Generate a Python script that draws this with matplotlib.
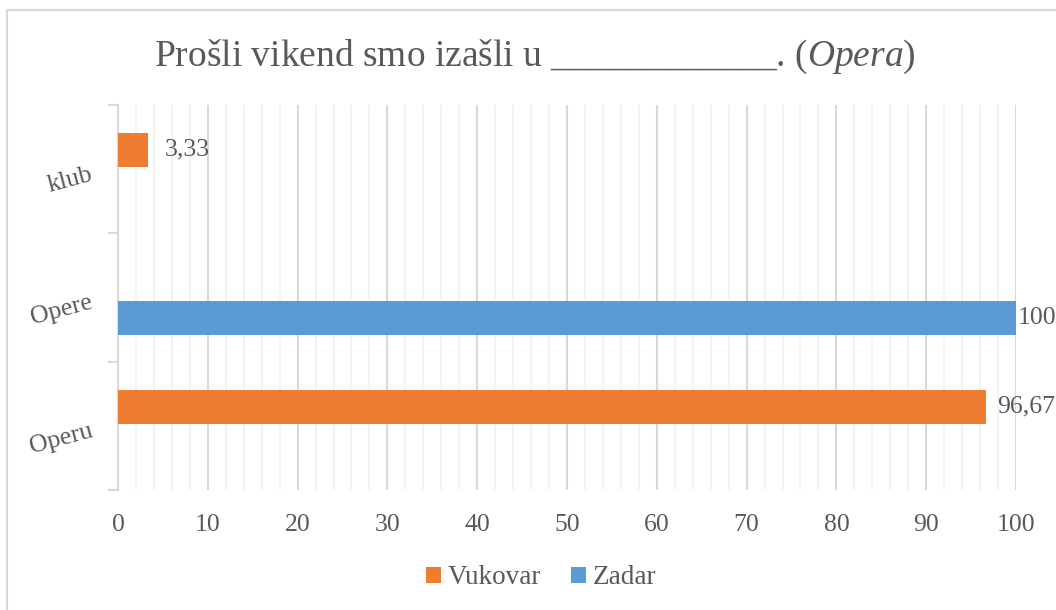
import matplotlib
matplotlib.use('Agg')
import matplotlib.pyplot as plt
import matplotlib.transforms as mtransforms
import numpy as np
from matplotlib.patches import Rectangle
from matplotlib.ticker import MultipleLocator

# ---------------- podaci ----------------
categories = ['Operu', 'Opere', 'klub']
vukovar = [96.67, np.nan, 3.33]
zadar = [np.nan, 100, np.nan]
series_names = ['Vukovar', 'Zadar']

# ---------------- stil ----------------
plt.rcParams['font.family'] = ['Liberation Serif', 'DejaVu Serif']
plt.rcParams['mathtext.fontset'] = 'custom'
plt.rcParams['mathtext.rm'] = 'Liberation Serif'
plt.rcParams['mathtext.it'] = 'Liberation Serif:italic'

ORANGE = '#ED7D31'
BLUE = '#5B9BD5'
TEXT = '#595959'
GRID_MAJOR = '#d9d9d9'
GRID_MINOR = '#f2f2f2'

fig = plt.figure(figsize=(10.56, 6.10), dpi=100)
ax = fig.add_axes([118 / 1056, 1 - 490 / 610, (1016 - 118) / 1056, (490 - 105) / 610])

# okvir grafikona
fig.patches.append(Rectangle((7 / 1056, -0.1), 1.2, 1 - 10 / 610 + 0.1,
                             transform=fig.transFigure, fill=False,
                             edgecolor=GRID_MAJOR, linewidth=1.5))

y = np.arange(len(categories))
bar_h = 0.265
ax.barh(y + 0.15, vukovar, height=bar_h, color=ORANGE, label=series_names[0], zorder=3)
ax.barh(y - 0.16, zadar, height=bar_h, color=BLUE, label=series_names[1], zorder=3)

# oznake podataka
label_pad = {0: 8, 1: 1.5, 2: 12}
for i, v in enumerate(vukovar):
    if not np.isnan(v):
        ax.annotate(f"{v:g}".replace('.', ','), (v, y[i] + 0.15), xytext=(label_pad[i], 0),
                    textcoords='offset points', ha='left', va='center',
                    fontsize=18.5, color=TEXT, annotation_clip=False)
for i, v in enumerate(zadar):
    if not np.isnan(v):
        ax.annotate(f"{v:g}".replace('.', ','), (v, y[i] - 0.16), xytext=(label_pad[i], 0),
                    textcoords='offset points', ha='left', va='center',
                    fontsize=18.5, color=TEXT, annotation_clip=False)

# osi
ax.set_xlim(0, 100)
ax.set_ylim(-0.5, len(categories) - 0.5)
ax.xaxis.set_major_locator(MultipleLocator(10))
ax.xaxis.set_minor_locator(MultipleLocator(2))
ax.grid(axis='x', which='major', color=GRID_MAJOR, linewidth=1.5, zorder=0)
ax.grid(axis='x', which='minor', color=GRID_MINOR, linewidth=1.3, zorder=0)
ax.tick_params(axis='x', which='both', length=0, pad=17, labelsize=18.5, labelcolor=TEXT)

ax.set_yticks(np.arange(-0.5, len(categories), 1.0))
ax.set_yticklabels([])
ax.set_yticks(y, minor=True)
ax.set_yticklabels(categories, minor=True, rotation=15, rotation_mode='anchor',
                   ha='right', va='center')
ax.tick_params(axis='y', which='major', length=7, width=1.5, color=GRID_MAJOR, direction='out')
ax.tick_params(axis='y', which='minor', length=0, pad=18.5, labelsize=18.5, labelcolor=TEXT)
shift = mtransforms.ScaledTranslation(0, -5 / 100, fig.dpi_scale_trans)
for lab in ax.get_yticklabels(minor=True):
    lab.set_transform(lab.get_transform() + shift)

for s in ['top', 'right', 'bottom']:
    ax.spines[s].set_visible(False)
ax.spines['left'].set_color(GRID_MAJOR)
ax.spines['left'].set_linewidth(1.5)

# naslov
fig.text(535 / 1056, 1 - 57 / 610,
         r"Prošli vikend smo izašli u ____________. ($\mathit{Opera}$)",
         ha='center', va='center', fontsize=27, color=TEXT)

# legenda
fig.legend(loc='center', bbox_to_anchor=(541 / 1056, 1 - 578 / 610), ncol=2,
           frameon=False, fontsize=19.5, labelcolor=TEXT, handlelength=0.55,
           handleheight=0.55, handletextpad=0.25, columnspacing=1.1)

fig.savefig('out.png', dpi=100)
